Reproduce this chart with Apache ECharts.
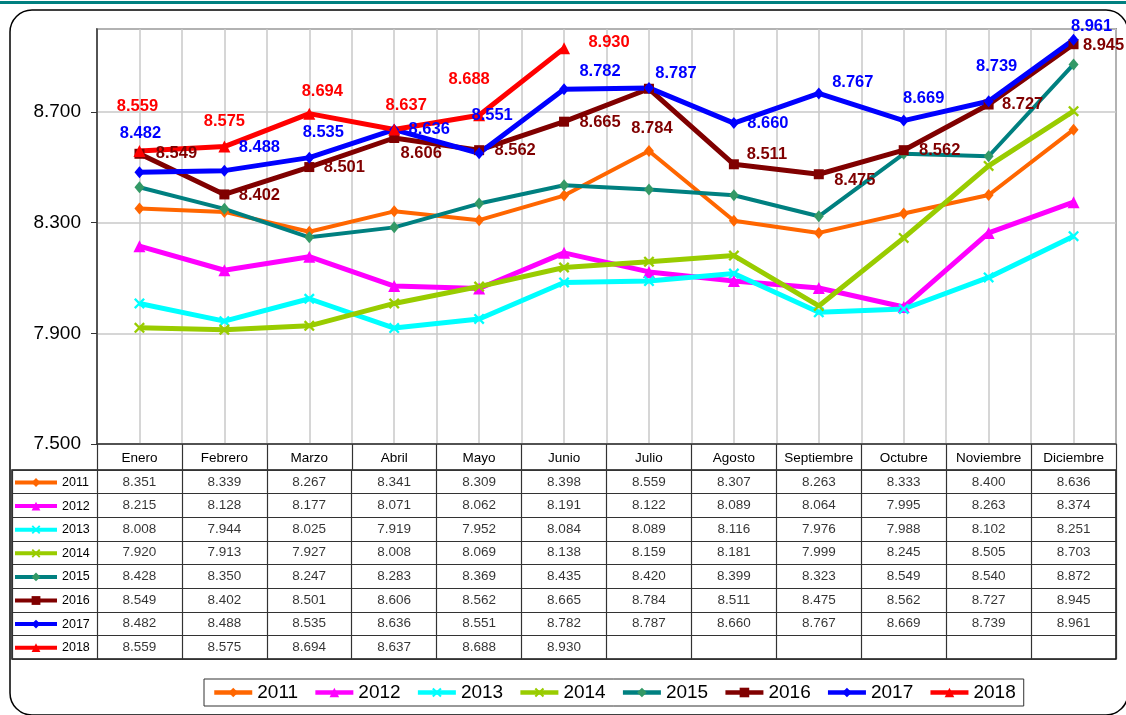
<!DOCTYPE html>
<html>
<head>
<meta charset="utf-8">
<script src="https://cdn.jsdelivr.net/npm/echarts@6/dist/echarts.min.js"></script>
<style>
html,body{margin:0;padding:0;background:#fff;}
#chart{width:1126px;height:715px;}
</style>
</head>
<body>
<div id="chart"></div>
<script>
// datos
const meses = ['Enero','Febrero','Marzo','Abril','Mayo','Junio','Julio','Agosto','Septiembre','Octubre','Noviembre','Diciembre']
const anios = ['2011','2012','2013','2014','2015','2016','2017','2018']
const v2011 = [8.351,8.339,8.267,8.341,8.309,8.398,8.559,8.307,8.263,8.333,8.400,8.636]
const v2012 = [8.215,8.128,8.177,8.071,8.062,8.191,8.122,8.089,8.064,7.995,8.263,8.374]
const v2013 = [8.008,7.944,8.025,7.919,7.952,8.084,8.089,8.116,7.976,7.988,8.102,8.251]
const v2014 = [7.920,7.913,7.927,8.008,8.069,8.138,8.159,8.181,7.999,8.245,8.505,8.703]
const v2015 = [8.428,8.350,8.247,8.283,8.369,8.435,8.420,8.399,8.323,8.549,8.540,8.872]
const v2016 = [8.549,8.402,8.501,8.606,8.562,8.665,8.784,8.511,8.475,8.562,8.727,8.945]
const v2017 = [8.482,8.488,8.535,8.636,8.551,8.782,8.787,8.660,8.767,8.669,8.739,8.961]
const v2018 = [8.559,8.575,8.694,8.637,8.688,8.930]
const valores = [v2011,v2012,v2013,v2014,v2015,v2016,v2017,v2018]

// posicion de etiquetas (dx, dy desde el punto)
const off2016 = [[37,0],[35,1],[35,0],[27,15],[36,0],[36,1],[3,40],[33,-10],[36,6],[36,0],[34,0],[30,1]]
const off2017 = [[1,-39],[35,-23],[14,-25],[35,0],[13,-38],[36,-18],[27,-14],[34,0],[34,-11],[20,-22],[8,-35],[18,-13]]
const off2018 = [[-2,-45],[0,-25],[13,-22],[12,-24],[-10,-36],[45,-6]]
const offsets = [null,null,null,null,null,off2016,off2017,off2018]

const colores = ['#FF6600','#FF00FF','#00FFFF','#99CC00','#339966','#800000','#0000FF','#FF0000']
const lineas = ['#FF6600','#FF00FF','#00FFFF','#99CC00','#008080','#800000','#0000FF','#FF0000']
const cruz = 'path://M0,1.5L1.5,0L5,3.5L8.5,0L10,1.5L6.5,5L10,8.5L8.5,10L5,6.5L1.5,10L0,8.5L3.5,5Z'
const simbolos = ['diamond','triangle',cruz,cruz,'diamond','rect','diamond','triangle']
const tamanos = [[10,12],12,11,11,[10,12],10,[10,12],12]
const anchos = [4,5,5,5,4,5,5,5]
const FONT = "'Liberation Sans', Arial, sans-serif"

const series = []
valores.forEach((vals,k)=>{
  const offs = offsets[k]
  series.push({
    name: anios[k],
    type: 'line',
    xAxisIndex: 0,
    yAxisIndex: 0,
    symbol: simbolos[k],
    symbolSize: tamanos[k],
    itemStyle: { color: colores[k] },
    lineStyle: { color: lineas[k], width: anchos[k] },
    label: offs ? {
      show: true,
      position: 'inside',
      fontFamily: FONT,
      fontWeight: 'bold',
      fontSize: 16.5,
      color: lineas[k],
      formatter: (p)=>p.value.toFixed(3)
    } : { show: false },
    emphasis: { disabled: true },
    data: vals.map((v,i)=> offs ? { value: v, label: { offset: offs[i] } } : v),
    animation: false
  })
})

// celdas de la tabla
const celdas = []
valores.forEach((vals,k)=>{
  vals.forEach((v,i)=>{ celdas.push([i+1, k+0.5, v]) })
})
series.push({
  name: 'tabla',
  type: 'scatter',
  xAxisIndex: 2,
  yAxisIndex: 1,
  symbolSize: 0,
  silent: true,
  label: {
    show: true,
    position: 'inside',
    fontFamily: FONT,
    fontSize: 13.5,
    color: '#000',
    formatter: (p)=>p.value[2].toFixed(3)
  },
  data: celdas,
  animation: false
})

const gris = '#c8c8c8'
const oscuro = '#333'

const option = {
  backgroundColor: '#fff',
  animation: false,
  textStyle: { fontFamily: FONT },
  graphic: [
    { type: 'rect', shape: { x: 0, y: 1, width: 1126, height: 3 }, style: { fill: '#008080' }, silent: true },
    { type: 'rect', shape: { x: 10, y: 10, width: 1118, height: 705, r: 22 }, style: { fill: 'none', stroke: '#000', lineWidth: 1.5 }, silent: true }
  ],
  grid: [
    { left: 97, right: 10, top: 29, height: 415, show: true, borderColor: '#404040', borderWidth: 1.5 },
    { left: 12, right: 10, top: 470, height: 189, show: true, borderColor: '#111', borderWidth: 1.5 }
  ],
  legend: [
    {
      data: anios,
      left: 204,
      top: 679,
      padding: [4, 8],
      borderColor: oscuro,
      borderWidth: 1,
      itemWidth: 38,
      itemHeight: 12,
      itemGap: 15,
      selectedMode: false,
      lineStyle: { width: 4.5 },
      textStyle: { fontFamily: FONT, fontSize: 19, color: '#000' }
    },
    {
      data: anios,
      orient: 'vertical',
      left: 13,
      top: 475.5,
      padding: 0,
      itemWidth: 42,
      itemHeight: 11,
      itemGap: 9.6,
      selectedMode: false,
      lineStyle: { width: 4 },
      textStyle: { fontFamily: FONT, fontSize: 12.5, lineHeight: 14, color: '#000' }
    }
  ],
  xAxis: [
    {
      type: 'category',
      gridIndex: 0,
      data: meses,
      boundaryGap: true,
      axisLine: { show: true, lineStyle: { color: oscuro, width: 1.5 } },
      axisTick: { show: true, interval: 0, length: 26, lineStyle: { color: oscuro, width: 1.2 } },
      axisLabel: { interval: 0, margin: 7, fontSize: 13.5, color: '#000', fontFamily: FONT },
      splitLine: { show: false }
    },
    {
      type: 'value',
      gridIndex: 0,
      position: 'top',
      min: 0,
      max: 24,
      interval: 1,
      axisLine: { show: false },
      axisTick: { show: false },
      axisLabel: { show: false },
      splitLine: { show: true, lineStyle: { color: gris, width: 1.5 } }
    },
    {
      type: 'category',
      gridIndex: 1,
      data: [''].concat(meses),
      boundaryGap: true,
      axisLine: { show: false },
      axisTick: { show: false },
      axisLabel: { show: false },
      splitLine: { show: true, interval: 0, lineStyle: { color: oscuro, width: 1.2 } }
    }
  ],
  yAxis: [
    {
      type: 'value',
      gridIndex: 0,
      min: 7.5,
      max: 9.0,
      interval: 0.4,
      axisLine: { show: true, lineStyle: { color: oscuro, width: 1.5 } },
      axisTick: { show: true, length: 6, lineStyle: { color: oscuro } },
      axisLabel: { margin: 16, fontSize: 19, color: '#000', fontFamily: FONT, showMaxLabel: false, formatter: (v)=>v.toFixed(3) },
      splitLine: { show: true, lineStyle: { color: gris, width: 1.5 } }
    },
    {
      type: 'value',
      gridIndex: 1,
      min: 0,
      max: 8,
      interval: 1,
      inverse: true,
      axisLine: { show: false },
      axisTick: { show: false },
      axisLabel: { show: false },
      splitLine: { show: true, lineStyle: { color: oscuro, width: 1.2 } }
    }
  ],
  series: series
}

const myChart = echarts.init(document.getElementById('chart'), null, { renderer: 'canvas' })
myChart.setOption(option)
</script>
</body>
</html>
